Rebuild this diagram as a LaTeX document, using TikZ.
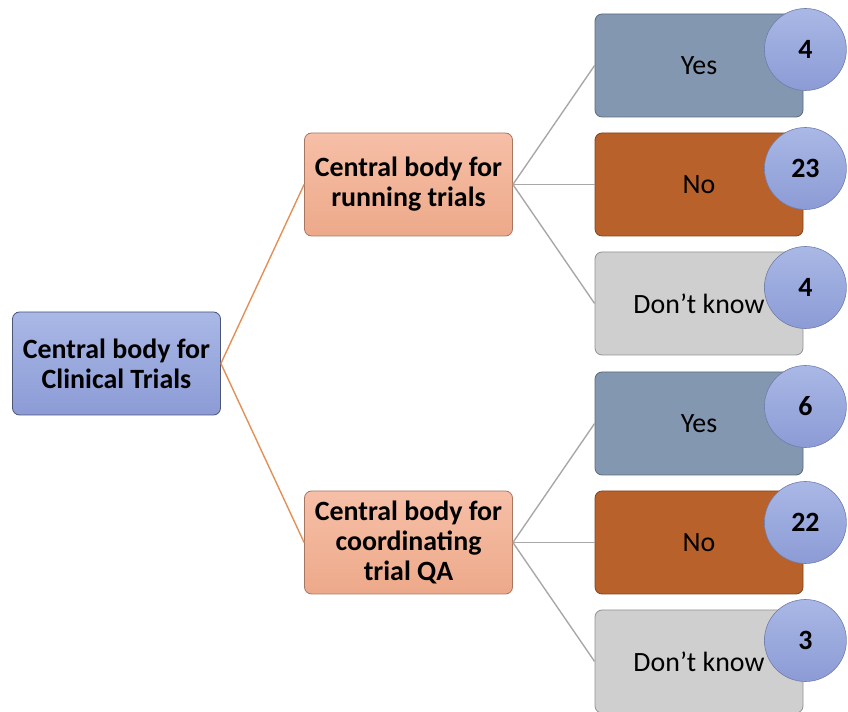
\documentclass[tikz,border=0pt]{standalone}
\usepackage{fontspec}
\setmainfont{Carlito}
\usetikzlibrary{positioning}
\definecolor{bluetop}{HTML}{A9B8E5}
\definecolor{bluebot}{HTML}{8C9BD5}
\definecolor{blueline}{HTML}{6B79A8}
\definecolor{peachtop}{HTML}{F6BFA7}
\definecolor{peachbot}{HTML}{EDA98A}
\definecolor{slate}{HTML}{8497B0}
\definecolor{rust}{HTML}{B8612A}
\definecolor{lightgr}{HTML}{D0CFCF}
\definecolor{orangeln}{HTML}{E39058}
\definecolor{grayln}{HTML}{A8A8A8}
\begin{document}
\begin{tikzpicture}[node distance=119bp,on grid,
   box/.style={rectangle,rounded corners=7bp,minimum width=208bp,minimum height=103bp,
     inner sep=0pt,align=center,draw=#1!70!black,line width=0.8bp,font=\fontsize{28}{30}\selectfont},
   bluebox/.style={box=blueline,top color=bluetop,bottom color=bluebot,font=\fontsize{28}{30}\selectfont\bfseries},
   peachbox/.style={box=peachbot,top color=peachtop,bottom color=peachbot,font=\fontsize{28}{30}\selectfont\bfseries},
   count/.style={circle,minimum size=82bp,inner sep=0pt,draw=bluebot!80!black,line width=0.6bp,
     top color=bluetop,bottom color=bluebot,font=\fontsize{28}{30}\selectfont\bfseries}]
   \useasboundingbox (0,0) rectangle (848bp,712bp);
   \node[bluebox] (root) at (116.5bp,348.5bp) {Central body for\\Clinical Trials};
   \node[peachbox] (run) [above right=179bp and 292bp of root] {Central body for\\running trials};
   \node[peachbox] (qa) [below right=179bp and 292bp of root] {Central body for\\coordinating\\trial QA};
   % answers, running trials
   \node[box=rust,fill=rust] (runno) [right=290.5bp of run] {No};
   \node[box=slate,fill=slate] (runyes) [above=of runno] {Yes};
   \node[box=lightgr,fill=lightgr] (rundk) [below=of runno] {Don’t know};
   % answers, trial QA
   \node[box=rust,fill=rust] (qano) [right=290.5bp of qa] {No};
   \node[box=slate,fill=slate] (qayes) [above=of qano] {Yes};
   \node[box=lightgr,fill=lightgr] (qadk) [below=of qano] {Don’t know};
   \path[orangeln,line width=1.4bp]
    (root.east) edge (run.west)
                edge (qa.west);
   \path[grayln,line width=1.4bp]
    (run.east) edge (runyes.west)
               edge (runno.west)
               edge (rundk.west)
    (qa.east)  edge (qayes.west)
               edge (qano.west)
               edge (qadk.west);
   % counts
   \node[count] (nrunyes) at ([shift={(2bp,16bp)}]runyes.east) {4};
   \node[count] (nrunno) at ([shift={(2bp,16bp)}]runno.east) {23};
   \node[count] (nrundk) at ([shift={(2bp,16bp)}]rundk.east) {4};
   \node[count] (nqayes) at ([shift={(2bp,17bp)}]qayes.east) {6};
   \node[count] (nqano) at ([shift={(2bp,20bp)}]qano.east) {22};
   \node[count] (nqadk) at ([shift={(2bp,21bp)}]qadk.east) {3};
\end{tikzpicture}
\end{document}
